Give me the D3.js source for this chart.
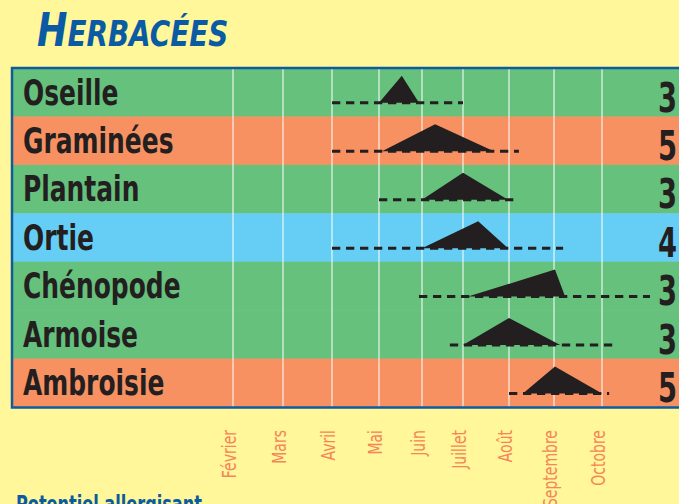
<!DOCTYPE html>
<html>
<head>
<meta charset="utf-8">
<script src="https://cdn.jsdelivr.net/npm/d3@7"></script>
<style>
  body { margin: 0; background: #fff799; overflow: hidden; }
  svg { display: block; }
</style>
</head>
<body>
<svg></svg>
<script>
// herbacées : saison pollinique et pic, en mois (2 = février ... 10 = octobre)
const plantes = ["Oseille", "Graminées", "Plantain", "Ortie", "Chénopode", "Armoise", "Ambroisie"];
const potentiel = [3, 5, 3, 4, 3, 3, 5];
const saisonDebut = [4.0, 4.0, 5.0, 4.0, 5.93, 6.68, 8.0];
const saisonFin = [7.0, 8.22, 8.18, 9.19, 11.0, 10.31, 10.15];
const picDebut = [5.0, 5.07, 6.0, 6.0, 7.11, 7.0, 8.31];
const picMax = [5.53, 6.32, 7.0, 7.33, 9.02, 8.0, 9.02];
const picFin = [5.93, 7.67, 7.98, 7.98, 9.23, 9.13, 10.0];
const mois = ["Février", "Mars", "Avril", "Mai", "Juin", "Juillet", "Août", "Septembre", "Octobre"];
const moisNum = [2, 3, 4, 5, 6, 7, 8, 9, 10];

const width = 679, height = 504;
const svg = d3.select("svg").attr("width", width).attr("height", height);

// pas de police étroite installée : on resserre DejaVu Condensed à la main
const fontCond = "'Liberation Sans Narrow', 'DejaVu Sans Condensed', sans-serif";

// la grille du document n'est pas tout à fait régulière
const x = d3.scaleLinear()
    .domain(moisNum)
    .range([233, 283, 332, 379, 422, 463, 509, 554, 602]);

const y = d3.scaleBand()
    .domain(plantes)
    .range([68, 407]);

const couleur = d3.scaleOrdinal()
    .domain([3, 4, 5])
    .range(["#65c17b", "#66cef5", "#f79162"]);

const data = plantes.map((p, i) => ({
    nom: p, pot: potentiel[i],
    s0: saisonDebut[i], s1: saisonFin[i],
    p0: picDebut[i], pm: picMax[i], p1: picFin[i]
}));

// titre
svg.append("text")
    .attr("transform", "translate(37,46) scale(0.86,1)")
    .style("font-family", fontCond)
    .style("font-weight", "bold")
    .style("font-style", "italic")
    .style("fill", "#0a5ba3")
    .call(t => {
        t.append("tspan").style("font-size", "47px").text("H");
        t.append("tspan").style("font-size", "36px").text("ERBACÉES");
    });

// bandes
svg.selectAll("rect.bande")
    .data(data)
    .enter()
    .append("rect")
    .attr("class", "bande")
    .attr("x", 12)
    .attr("y", d => y(d.nom))
    .attr("width", width)
    .attr("height", y.bandwidth() + 0.5)
    .attr("fill", d => couleur(d.pot));

// lignes des mois
svg.selectAll("line.grille")
    .data(moisNum)
    .enter()
    .append("line")
    .attr("class", "grille")
    .attr("x1", d => x(d))
    .attr("x2", d => x(d))
    .attr("y1", 68)
    .attr("y2", 407)
    .attr("stroke", "#ffffff")
    .attr("stroke-opacity", 0.85)
    .attr("stroke-width", 1.2);

// cadre
svg.append("path")
    .attr("d", `M${width + 5},68 H12 V407.5 H${width + 5}`)
    .attr("fill", "none")
    .attr("stroke", "#0e5c9e")
    .attr("stroke-width", 2.5);

const base = d => y(d.nom) + y.bandwidth() * 0.72;
const hPic = 27;

// pics
svg.selectAll("path.pic")
    .data(data)
    .enter()
    .append("path")
    .attr("class", "pic")
    .attr("d", d => `M${x(d.p0)},${base(d)} L${x(d.pm)},${base(d) - hPic} L${x(d.p1)},${base(d)} Z`)
    .attr("fill", "#231f20");

// saisons en pointillé
svg.selectAll("line.saison")
    .data(data)
    .enter()
    .append("line")
    .attr("class", "saison")
    .attr("x1", d => x(d.s0))
    .attr("x2", d => x(d.s1))
    .attr("y1", base)
    .attr("y2", base)
    .attr("stroke", "#231f20")
    .attr("stroke-width", 3)
    .attr("stroke-dasharray", "8.3 5.7");

// noms
svg.selectAll("text.nom")
    .data(data)
    .enter()
    .append("text")
    .attr("class", "nom")
    .attr("transform", d => `translate(23,${y(d.nom) + 36.5}) scale(0.77,1)`)
    .style("font-family", fontCond)
    .style("font-weight", "bold")
    .style("font-size", "36px")
    .style("fill", "#231f20")
    .text(d => d.nom);

// potentiel
svg.selectAll("text.pot")
    .data(data)
    .enter()
    .append("text")
    .attr("class", "pot")
    .attr("transform", d => `translate(658,${y(d.nom) + 43.5}) scale(0.76,1)`)
    .style("font-family", fontCond)
    .style("font-weight", "bold")
    .style("font-size", "40px")
    .style("fill", "#231f20")
    .text(d => d.pot);

// mois
svg.selectAll("text.mois")
    .data(moisNum)
    .enter()
    .append("text")
    .attr("class", "mois")
    .attr("transform", d => `translate(${x(d) + 3},430) rotate(-90) scale(0.82,1)`)
    .attr("text-anchor", "end")
    .style("font-family", fontCond)
    .style("font-size", "19px")
    .style("fill", "#f6855a")
    .text((d, i) => mois[i]);

// légende (coupée en bas)
svg.append("text")
    .attr("transform", "translate(16,512) scale(0.78,1)")
    .style("font-family", fontCond)
    .style("font-weight", "bold")
    .style("font-size", "23px")
    .style("fill", "#0a5ba3")
    .text("Potentiel allergisant");
</script>
</body>
</html>
